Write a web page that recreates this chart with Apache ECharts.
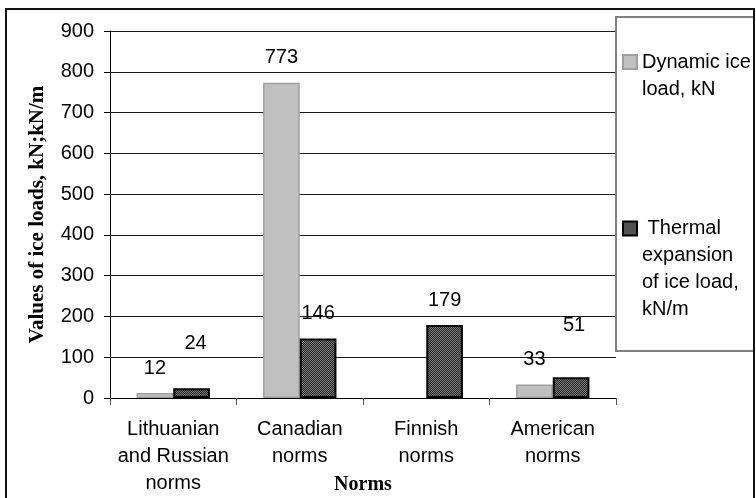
<!DOCTYPE html>
<html>
<head>
<meta charset="utf-8">
<script src="https://cdn.jsdelivr.net/npm/echarts@6/dist/echarts.min.js"></script>
<style>
  html, body { margin: 0; padding: 0; background: #fff; }
  #chart { width: 756px; height: 498px; }
</style>
</head>
<body>
<div id="chart"></div>
<script>
// Ice load values by design norm
const categories = ['Lithuanian\nand Russian\nnorms', 'Canadian\nnorms', 'Finnish\nnorms', 'American\nnorms'];
const dynamicLoad = [12, 773, null, 33];      // kN
const thermalLoad = [24, 146, 179, 51];       // kN/m
const seriesNames = ['Dynamic ice load, kN', 'Thermal expansion of ice load, kN/m'];
const yTicks = { min: 0, max: 900, step: 100 };

const SANS = "'Liberation Sans', Arial, sans-serif";
const SERIF = "'Liberation Serif', 'Times New Roman', serif";

// Fine diagonal hatch used for the thermal-expansion bars
function hatchPattern() {
  const c = document.createElement('canvas');
  c.width = 4; c.height = 4;
  const g = c.getContext('2d');
  g.fillStyle = '#7c7c7c';
  g.fillRect(0, 0, 4, 4);
  g.fillStyle = '#262626';
  for (let i = 0; i < 4; i++) {
    g.fillRect(i, 3 - i, 1, 1);
    g.fillRect(i, (5 - i) % 4, 1, 1);
  }
  return c;
}
const hatch = { image: hatchPattern(), repeat: 'repeat' };

const labelBase = {
  show: true, position: 'top', distance: 15,
  fontFamily: SANS, fontSize: 20, color: '#000'
};

// a couple of value labels sit higher above their bars
function thermalData() {
  return thermalLoad.map((v, i) => {
    if (i === 0) return { value: v, label: { offset: [4, -20] } };
    if (i === 3) return { value: v, label: { offset: [3, -27] } };
    return v;
  });
}

const chart = echarts.init(document.getElementById('chart'), null, { renderer: 'canvas' });

chart.setOption({
  animation: false,
  backgroundColor: '#fff',
  grid: { left: 110, right: 140, top: 31, bottom: 100, containLabel: false, outerBoundsMode: 'none' },
  legend: [
    {
      data: [seriesNames[0]],
      left: 622, top: 21.5, padding: 0,
      icon: 'rect', itemWidth: 14, itemHeight: 14,
      textStyle: { fontFamily: SANS, fontSize: 20, color: '#000', lineHeight: 27 },
      formatter: () => '\nDynamic ice\nload, kN'
    },
    {
      data: [seriesNames[1]],
      left: 622, top: 134, padding: 0,
      icon: 'rect', itemWidth: 14, itemHeight: 14,
      textStyle: { fontFamily: SANS, fontSize: 20, color: '#000', lineHeight: 27 },
      formatter: () => '\n\n\n Thermal\nexpansion\nof ice load,\nkN/m'
    }
  ],
  xAxis: {
    type: 'category',
    data: categories,
    name: 'Norms',
    nameLocation: 'middle',
    nameGap: 77,
    nameMoveOverlap: false,
    nameTextStyle: { fontFamily: SERIF, fontWeight: 'bold', fontSize: 20, color: '#000' },
    axisLine: { lineStyle: { color: '#000', width: 1 } },
    axisTick: { show: true, length: 7, lineStyle: { color: '#555' } },
    axisLabel: {
      interval: 0, margin: 18,
      fontFamily: SANS, fontSize: 20, color: '#000', lineHeight: 27
    }
  },
  yAxis: {
    type: 'value',
    min: yTicks.min, max: yTicks.max, interval: yTicks.step,
    name: 'Values of ice loads, kN;kN/m',
    nameLocation: 'middle',
    nameGap: 62,
    nameMoveOverlap: false,
    nameTextStyle: { fontFamily: SERIF, fontWeight: 'bold', fontSize: 21, color: '#000' },
    axisLine: { show: true, lineStyle: { color: '#000', width: 1 } },
    axisTick: { show: true, length: 6, lineStyle: { color: '#000' } },
    axisLabel: { margin: 16, fontFamily: SANS, fontSize: 20, color: '#000' },
    splitLine: { show: true, lineStyle: { color: '#1a1a1a', width: 1 } }
  },
  series: [
    {
      name: seriesNames[0],
      type: 'bar',
      data: dynamicLoad,
      barGap: '0%',
      barCategoryGap: '42%',
      itemStyle: { color: '#c0c0c0', borderColor: '#a0a0a0', borderWidth: 1.5 },
      label: labelBase
    },
    {
      name: seriesNames[1],
      type: 'bar',
      data: thermalData(),
      barGap: '0%',
      barCategoryGap: '42%',
      itemStyle: { color: hatch, borderColor: '#000', borderWidth: 2 },
      label: labelBase
    }
  ],
  graphic: [
    {
      type: 'rect', z: 5, silent: true,
      shape: { x: 616, y: 17, width: 138, height: 334 },
      style: { fill: 'none', stroke: '#7f7f7f', lineWidth: 2 }
    },
    {
      type: 'rect', z: 6, silent: true,
      shape: { x: 6, y: 9, width: 748, height: 520 },
      style: { fill: 'none', stroke: '#111', lineWidth: 2 }
    }
  ]
});
</script>
</body>
</html>
